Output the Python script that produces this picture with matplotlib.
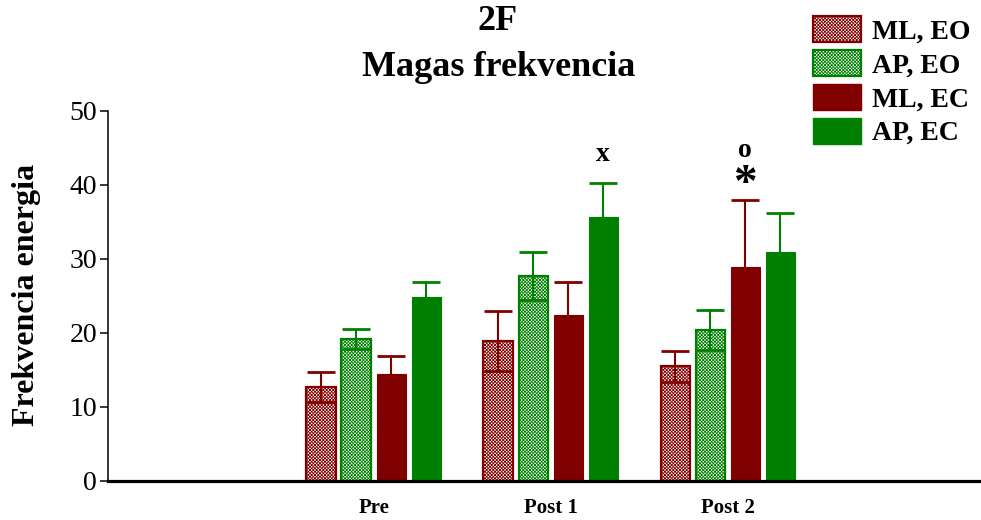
import numpy as np
import matplotlib
matplotlib.use("Agg")
import matplotlib.pyplot as plt
from matplotlib.patches import Patch

plt.rcParams['font.family'] = ['Liberation Serif', 'DejaVu Serif']
plt.rcParams['hatch.linewidth'] = 0.6

# Data
groups = ["Pre", "Post 1", "Post 2"]
series = ["ML, EO", "AP, EO", "ML, EC", "AP, EC"]
ml_eo = [12.7, 18.9, 15.5]
ml_eo_err = [2.0, 4.1, 2.1]
ap_eo = [19.2, 27.7, 20.4]
ap_eo_err = [1.3, 3.2, 2.7]
ml_ec = [14.5, 22.4, 28.9]
ml_ec_err = [2.4, 4.5, 9.1]
ap_ec = [24.9, 35.7, 30.9]
ap_ec_err = [2.0, 4.6, 5.3]

RED = "#800000"
GREEN = "#008000"

values = [ml_eo, ap_eo, ml_ec, ap_ec]
errors = [ml_eo_err, ap_eo_err, ml_ec_err, ap_ec_err]
colors = [RED, GREEN, RED, GREEN]
hatched = [True, True, False, False]

fig = plt.figure(figsize=(9.81, 5.20), dpi=100)
ax = fig.add_axes([108 / 981, 1 - 481 / 520, 1 - 108 / 981, (481 - 111) / 520])

x = np.arange(len(groups))
width = 0.165
pitch = 0.198
offsets = (np.arange(4) - 1.5) * pitch

for vals, errs, col, hat, off in zip(values, errors, colors, hatched, offsets):
    if hat:
        ax.bar(x + off, vals, width, facecolor="white", edgecolor=col,
               hatch="xxxxxxxxxx", linewidth=1.6, zorder=2)
    else:
        ax.bar(x + off, vals, width, color=col, edgecolor=col,
               linewidth=0.8, zorder=2)
    ax.errorbar(x + off, vals, yerr=errs, fmt="none", ecolor=col,
                elinewidth=1.5, capsize=10.4, capthick=2, zorder=3)

# Significance marks
ax.text(x[1] + offsets[3], 44.1, "x", ha="center", va="center",
        fontsize=20, fontweight="bold")
ax.text(x[2] + offsets[2], 44.6, "o", ha="center", va="center",
        fontsize=20, fontweight="bold")
ax.text(x[2] + offsets[2], 40.0, "*", ha="center", va="center",
        fontsize=34, fontweight="bold")

ax.set_xlim(-1.5, 3.43)
ax.set_ylim(0, 50)
ax.set_yticks([0, 10, 20, 30, 40, 50])
ax.tick_params(axis="y", labelsize=20, length=6, width=1.1, pad=2)
ax.set_xticks(x)
ax.set_xticklabels(groups, fontsize=15, fontweight="bold")
ax.tick_params(axis="x", length=0, pad=12)

ax.spines["top"].set_visible(False)
ax.spines["right"].set_visible(False)
ax.spines["left"].set_linewidth(1.1)
ax.spines["bottom"].set_linewidth(2.3)
ax.spines["bottom"].set_zorder(4)

fig.text(27 / 981, 1 - 295 / 520, "Frekvencia energia", rotation=90,
         ha="center", va="center", fontsize=23, fontweight="bold")

fig.text(498 / 981, 1 - 22 / 520, "2F", ha="center", va="center",
         fontsize=26, fontweight="bold")
fig.text(499 / 981, 1 - 68 / 520, "Magas frekvencia", ha="center",
         va="center", fontsize=26, fontweight="bold")

handles = []
for lab, col, hat in zip(series, colors, hatched):
    if hat:
        handles.append(Patch(facecolor="white", edgecolor=col,
                             hatch="xxxxxxxxxx", linewidth=1.6, label=lab))
    else:
        handles.append(Patch(facecolor=col, edgecolor=col, label=lab))

fig.legend(handles=handles, loc="upper left",
           bbox_to_anchor=(813 / 981, 1 - 16 / 520), frameon=False,
           borderpad=0, borderaxespad=0, handlelength=1.73,
           handleheight=1.05, labelspacing=0.2, handletextpad=0.4,
           prop={"size": 20, "weight": "bold"})

fig.savefig("out.png", dpi=100)
